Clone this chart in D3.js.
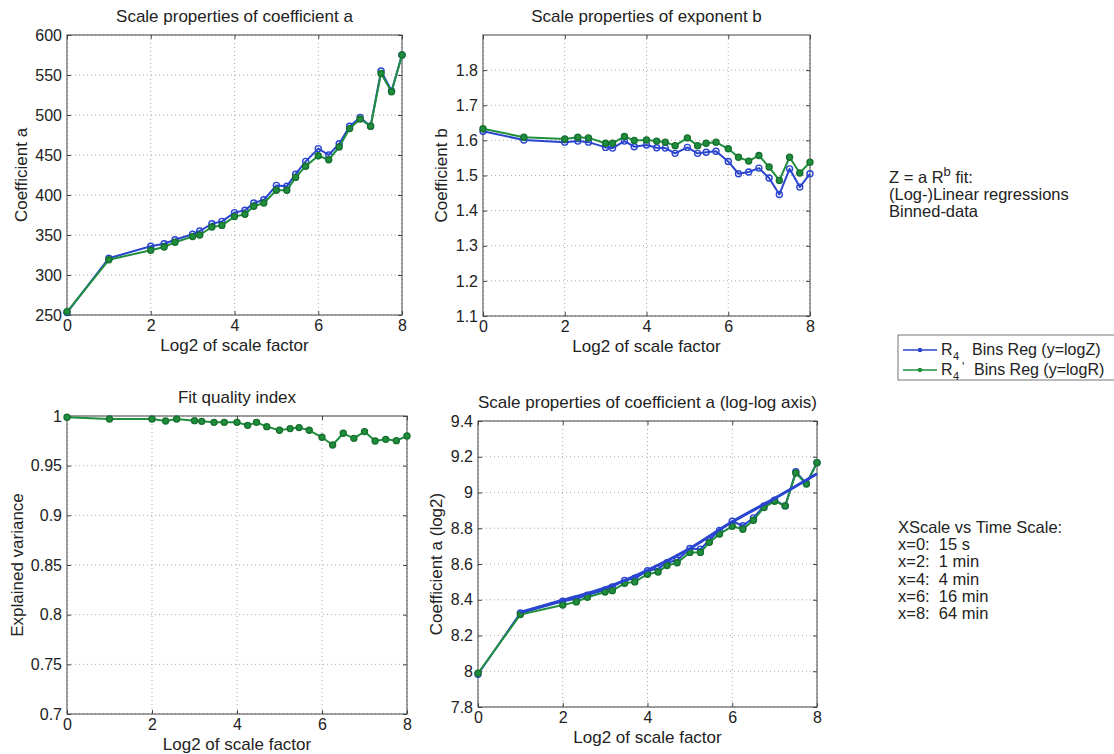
<!DOCTYPE html>
<html>
<head>
<meta charset="utf-8">
<script src="https://cdn.jsdelivr.net/npm/d3@7"></script>
<style>
  body { margin: 0; background: #fff; }
  text { font-family: "Liberation Sans", Arial, sans-serif; fill: #222; }
</style>
</head>
<body>
<div id="chart"></div>
<script>
// x positions (log2 of scale factor), shared by all panels
var scaleLog2 = [0, 1, 2, 2.32, 2.58, 3, 3.17, 3.46, 3.7, 4, 4.25, 4.46, 4.7, 5, 5.25, 5.46, 5.7, 6, 6.25, 6.5, 6.75, 7, 7.25, 7.5, 7.75, 8];

// coefficient a
var coefA_logZ = [253, 321, 336, 339, 344, 351, 355, 364, 367, 378, 381, 390, 394, 412, 411, 426, 442, 458, 450, 464, 486, 497, 486, 555, 530, 575];
var coefA_logR = [254, 319, 331, 335, 341, 348, 350, 360, 362, 373, 376, 386, 390, 406, 406, 422, 436, 449, 444, 460, 483, 495, 486, 552, 529, 575];

// exponent b
var expB_logZ = [1.626, 1.601, 1.595, 1.598, 1.595, 1.580, 1.578, 1.598, 1.582, 1.587, 1.579, 1.578, 1.563, 1.580, 1.563, 1.566, 1.569, 1.540, 1.505, 1.510, 1.521, 1.493, 1.446, 1.519, 1.467, 1.505];
var expB_logR = [1.633, 1.609, 1.604, 1.609, 1.607, 1.592, 1.592, 1.611, 1.600, 1.601, 1.598, 1.595, 1.585, 1.607, 1.585, 1.592, 1.595, 1.576, 1.552, 1.541, 1.557, 1.524, 1.486, 1.552, 1.507, 1.538];

// explained variance
var explVar_logR = [0.9987, 0.997, 0.997, 0.995, 0.997, 0.9953, 0.9946, 0.9936, 0.9936, 0.9936, 0.9906, 0.9936, 0.9893, 0.9856, 0.9873, 0.9883, 0.9856, 0.9786, 0.9708, 0.9826, 0.9775, 0.9843, 0.9749, 0.9765, 0.9752, 0.9799];

// coefficient a on log2 axis
var log2A_logZ = [7.983, 8.326, 8.392, 8.405, 8.426, 8.455, 8.472, 8.508, 8.520, 8.562, 8.574, 8.607, 8.622, 8.687, 8.683, 8.735, 8.788, 8.839, 8.814, 8.858, 8.925, 8.957, 8.925, 9.116, 9.050, 9.167];
var log2A_logR = [7.989, 8.317, 8.371, 8.388, 8.414, 8.443, 8.451, 8.492, 8.500, 8.543, 8.555, 8.592, 8.607, 8.665, 8.665, 8.721, 8.768, 8.811, 8.794, 8.845, 8.916, 8.951, 8.925, 9.109, 9.047, 9.167];
var fitX = [1, 2, 3, 4, 5, 6, 7, 8];
var log2A_fit = [8.33, 8.397, 8.466, 8.565, 8.687, 8.836, 8.967, 9.105];

// tick labels
var xTicks = [0, 2, 4, 6, 8];
var aTicks = [250, 300, 350, 400, 450, 500, 550, 600];
var bTicks = [1.1, 1.2, 1.3, 1.4, 1.5, 1.6, 1.7, 1.8];
var varTicks = [0.7, 0.75, 0.8, 0.85, 0.9, 0.95, 1];
var log2Ticks = [7.8, 8, 8.2, 8.4, 8.6, 8.8, 9, 9.2, 9.4];

var BLUE = "#2944cf", GREEN = "#1f8f3d", GREEN_DARK = "#17702f";

var svg = d3.select("#chart").append("svg")
  .attr("width", 1114)
  .attr("height", 754);

svg.append("rect").attr("width", 1114).attr("height", 754).attr("fill", "#fff");

function drawPanel(p) {
  var x = d3.scaleLinear().domain([0, 8]).range([p.left, p.right]);
  var y = d3.scaleLinear().domain(p.yDomain).range([p.bottom, p.top]);
  var g = svg.append("g");

  // dotted grid
  g.selectAll(".gx").data(xTicks).enter().append("line")
    .attr("x1", function(d) { return x(d); }).attr("x2", function(d) { return x(d); })
    .attr("y1", p.top).attr("y2", p.bottom)
    .attr("stroke", "#aaa").attr("stroke-dasharray", "1,3");
  g.selectAll(".gy").data(p.yTicks).enter().append("line")
    .attr("x1", p.left).attr("x2", p.right)
    .attr("y1", function(d) { return y(d); }).attr("y2", function(d) { return y(d); })
    .attr("stroke", "#aaa").attr("stroke-dasharray", "1,3");

  var fmt = function(d) { return String(d); };
  var axes = [
    [d3.axisBottom(x).tickValues(xTicks).tickFormat(fmt), "translate(0," + p.bottom + ")"],
    [d3.axisLeft(y).tickValues(p.yTicks).tickFormat(fmt), "translate(" + p.left + ",0)"],
    [d3.axisTop(x).tickValues(xTicks).tickFormat(""), "translate(0," + p.top + ")"],
    [d3.axisRight(y).tickValues(p.yTicks).tickFormat(""), "translate(" + p.right + ",0)"]
  ];
  axes.forEach(function(a) {
    var ax = g.append("g").attr("transform", a[1])
      .call(a[0].tickSizeInner(-4).tickSizeOuter(0).tickPadding(5));
    ax.select(".domain").remove();
    ax.selectAll("line").attr("stroke", "#444");
    ax.selectAll("text").attr("font-size", 16).attr("font-family", "Liberation Sans, Arial, sans-serif").attr("fill", "#222");
  });

  g.append("rect")
    .attr("x", p.left).attr("y", p.top)
    .attr("width", p.right - p.left).attr("height", p.bottom - p.top)
    .attr("fill", "none").attr("stroke", "#444");

  p.series.forEach(function(s) {
    var pts = s.x.map(function(v, i) { return [v, s.y[i]]; });
    var line = d3.line()
      .x(function(d) { return x(d[0]); })
      .y(function(d) { return y(d[1]); });
    if (s.smooth) line.curve(d3.curveMonotoneX);
    g.append("path").datum(pts)
      .attr("d", line)
      .attr("fill", "none")
      .attr("stroke", s.color)
      .attr("stroke-width", s.width || 2)
      .attr("stroke-linejoin", "round");
    if (s.marker) {
      g.selectAll(null).data(pts).enter().append("circle")
        .attr("cx", function(d) { return x(d[0]); })
        .attr("cy", function(d) { return y(d[1]); })
        .attr("r", 3)
        .attr("fill", s.marker === "open" ? "none" : s.color)
        .attr("stroke", s.marker === "open" ? s.color : GREEN_DARK)
        .attr("stroke-width", 1.4);
    }
  });

  g.append("text")
    .attr("x", (p.left + p.right) / 2).attr("y", p.top - 13)
    .attr("text-anchor", "middle").attr("font-size", 17)
    .text(p.title);
  g.append("text")
    .attr("x", (p.left + p.right) / 2).attr("y", p.bottom + 36)
    .attr("text-anchor", "middle").attr("font-size", 17)
    .text("Log2 of scale factor");
  g.append("text")
    .attr("transform", "translate(" + (p.left - p.ylabelOffset) + "," + ((p.top + p.bottom) / 2) + ") rotate(-90)")
    .attr("text-anchor", "middle").attr("font-size", 17)
    .text(p.ylabel);
}

drawPanel({
  left: 67, right: 402, top: 35, bottom: 315,
  yDomain: [250, 600], yTicks: aTicks,
  title: "Scale properties of coefficient a", ylabel: "Coefficient a", ylabelOffset: 40,
  series: [
    { x: scaleLog2, y: coefA_logZ, color: BLUE, marker: "open" },
    { x: scaleLog2, y: coefA_logR, color: GREEN, marker: "dot" }
  ]
});

drawPanel({
  left: 483, right: 810, top: 35, bottom: 316,
  yDomain: [1.1, 1.9], yTicks: bTicks,
  title: "Scale properties of exponent b", ylabel: "Coefficient b", ylabelOffset: 36,
  series: [
    { x: scaleLog2, y: expB_logZ, color: BLUE, marker: "open" },
    { x: scaleLog2, y: expB_logR, color: GREEN, marker: "dot" }
  ]
});

drawPanel({
  left: 67, right: 407, top: 416, bottom: 714,
  yDomain: [0.7, 1], yTicks: varTicks,
  title: "Fit quality index", ylabel: "Explained variance", ylabelOffset: 44,
  series: [
    { x: scaleLog2, y: explVar_logR, color: GREEN, marker: "dot" }
  ]
});

drawPanel({
  left: 478, right: 817, top: 421, bottom: 707,
  yDomain: [7.8, 9.4], yTicks: log2Ticks,
  title: "Scale properties of coefficient a (log-log axis)", ylabel: "Coefficient a (log2)", ylabelOffset: 36,
  series: [
    { x: scaleLog2, y: log2A_logZ, color: BLUE, marker: "open" },
    { x: scaleLog2, y: log2A_logR, color: GREEN, marker: "dot" },
    { x: fitX, y: log2A_fit, color: BLUE, width: 3, smooth: true }
  ]
});

// annotation text on the right
var note = svg.append("g");
var t1 = note.append("text").attr("x", 889).attr("y", 183).attr("font-size", 16.5);
t1.append("tspan").text("Z = a R");
t1.append("tspan").attr("dy", -7).attr("font-size", 13).text("b");
t1.append("tspan").attr("dy", 7).text(" fit:");
note.append("text").attr("x", 889).attr("y", 200).attr("font-size", 16.5).text("(Log-)Linear regressions");
note.append("text").attr("x", 889).attr("y", 217).attr("font-size", 16.5).text("Binned-data");

// legend
var legend = svg.append("g");
legend.append("rect")
  .attr("x", 898).attr("y", 335).attr("width", 240).attr("height", 45)
  .attr("fill", "#fff").attr("stroke", "#777");
var legendItems = [
  { color: BLUE, prime: "", label: "Bins Reg (y=logZ)", y: 350, lx: 972 },
  { color: GREEN, prime: "'", label: "Bins Reg (y=logR)", y: 370, lx: 974 }
];
legendItems.forEach(function(d) {
  legend.append("line").attr("x1", 903).attr("x2", 937).attr("y1", d.y).attr("y2", d.y)
    .attr("stroke", d.color).attr("stroke-width", 1.5);
  legend.append("circle").attr("cx", 920).attr("cy", d.y).attr("r", 2.3).attr("fill", d.color);
  legend.append("text").attr("x", 941).attr("y", d.y + 5).attr("font-size", 16).text("R");
  legend.append("text").attr("x", 953).attr("y", d.y + 10).attr("font-size", 11).text("4");
  legend.append("text").attr("x", 962).attr("y", d.y + 1).attr("font-size", 12).text(d.prime);
  legend.append("text").attr("x", d.lx).attr("y", d.y + 5).attr("font-size", 16).text(d.label);
});

// x scale vs time scale note
var timeLines = ["XScale vs Time Scale:", "x=0:  15 s", "x=2:  1 min", "x=4:  4 min", "x=6:  16 min", "x=8:  64 min"];
svg.append("g").selectAll("text").data(timeLines).enter().append("text")
  .attr("x", 898)
  .attr("y", function(d, i) { return 533 + i * 17.2; })
  .attr("font-size", 16.5)
  .style("white-space", "pre")
  .text(function(d) { return d; });
</script>
</body>
</html>
